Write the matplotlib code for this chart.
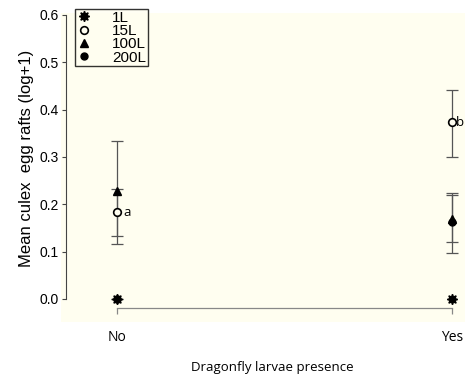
import matplotlib.pyplot as plt
import numpy as np

# ── data ──────────────────────────────────────────────────────────────────────
groups = ['No', 'Yes']
volumes = ['1L', '15L', '100L', '200L']

mean_1L   = [0.0, 0.0]
mean_15L  = [0.183, 0.373]
mean_100L = [0.228, 0.170]
mean_200L = [0.0, 0.163]

lo_15L  = [0.133, 0.301]
hi_15L  = [0.233, 0.442]
lo_100L = [0.117, 0.121]
hi_100L = [0.334, 0.220]
lo_200L = [0.0, 0.098]
hi_200L = [0.0, 0.225]

letters = ['a', 'b']

# ── figure ────────────────────────────────────────────────────────────────────
W, H = 465, 379
fig = plt.figure(figsize=(W / 100, H / 100), dpi=100)
fig.patch.set_facecolor('white')

cream = '#fffef0'
ax_l, ax_r, ax_t, ax_b = 61, 465, 12.7, 322
ax = fig.add_axes([ax_l / W, 1 - ax_b / H, (ax_r - ax_l) / W, (ax_b - ax_t) / H])
ax.set_facecolor(cream)

x = np.arange(len(groups))
ecol = '#555555'

def bars(means, lo, hi, zorder):
    m = np.array(means)
    yerr = [m - np.array(lo), np.array(hi) - m]
    ax.errorbar(x, m, yerr=yerr, fmt='none', ecolor=ecol, elinewidth=0.9,
                capsize=4, capthick=0.9, zorder=zorder)

bars(mean_100L, lo_100L, hi_100L, 2)
bars(mean_200L, lo_200L, hi_200L, 2)
bars(mean_15L, lo_15L, hi_15L, 2)

ax.plot(x, mean_200L, 'o', color='black', ms=5, ls='none', zorder=3, label='200L')
ax.plot(x, mean_100L, '^', color='black', ms=5.5, ls='none', zorder=3, label='100L')
ax.plot(x, mean_15L, 'o', mfc=cream, mec='black', mew=1.2, ms=5.5, ls='none',
        zorder=4, label='15L')
ax.plot(x, mean_1L, marker=(8, 1, 0), color='black', ms=7.5, ls='none', zorder=4,
        label='1L')

# significance letters, "b" hugs the right edge like the original
for xi, yi, t, dx in zip(x, mean_15L, letters, [0.019, 0.011]):
    ax.text(xi + dx, yi, t, fontsize=9.5, family='Open Sans',
            ha='left', va='center', zorder=5)

# ── axes (R style, detached) ─────────────────────────────────────────────────
px = 0.6 / (299 - 15)
ax.set_ylim(-(ax_b - 299) * px, 0.6 + (15 - ax_t) * px)
unit = 452 - 117
ax.set_xlim(-(117 - ax_l) / unit, (ax_r - 117) / unit)

for s in ['top', 'right']:
    ax.spines[s].set_visible(False)
ax.spines['left'].set_position(('axes', (66 - ax_l) / (ax_r - ax_l)))
ax.spines['left'].set_bounds(0, 0.6)
ax.spines['left'].set_color('#444444')
ax.spines['left'].set_linewidth(0.8)
ax.spines['bottom'].set_position(('data', -(308 - 299) * px))
ax.spines['bottom'].set_bounds(0, 1)
ax.spines['bottom'].set_color('#888888')
ax.spines['bottom'].set_linewidth(0.9)

ax.set_yticks(np.arange(0, 0.61, 0.1))
ax.set_yticklabels([f'{v:.1f}' for v in np.arange(0, 0.61, 0.1)],
                   fontsize=10, family='Liberation Sans')
ax.tick_params(axis='y', length=3, width=0.8, color='#444444', pad=2)
ax.set_xticks(x)
ax.set_xticklabels(groups, fontsize=10, family='Open Sans')
ax.tick_params(axis='x', length=4, width=0.9, color='#888888', pad=12)

fig.text(272 / W, 1 - 368 / H, 'Dragonfly larvae presence', fontsize=9.5,
         family='Open Sans', ha='center', va='center')
fig.text(26 / W, 1 - 158 / H, 'Mean culex  egg rafts (log+1)', fontsize=12,
         family='Liberation Sans', rotation=90, ha='center', va='center')

# legend in 1L, 15L, 100L, 200L order
handles, labels = ax.get_legend_handles_labels()
order = [labels.index(v) for v in volumes]
leg = ax.legend([handles[i] for i in order], [labels[i] for i in order],
                loc='upper left', bbox_to_anchor=((75 - ax_l) / (ax_r - ax_l), 1 - (9 - ax_t) / (ax_b - ax_t)),
                prop={'family': 'Liberation Sans', 'size': 11},
                frameon=True, fancybox=False, borderpad=0.12, labelspacing=-0.05,
                handlelength=1.0, handletextpad=1.3, borderaxespad=0)
leg.get_frame().set_edgecolor('black')
leg.get_frame().set_linewidth(1.0)
leg.get_frame().set_facecolor(cream)

fig.savefig('out.png', dpi=100)
